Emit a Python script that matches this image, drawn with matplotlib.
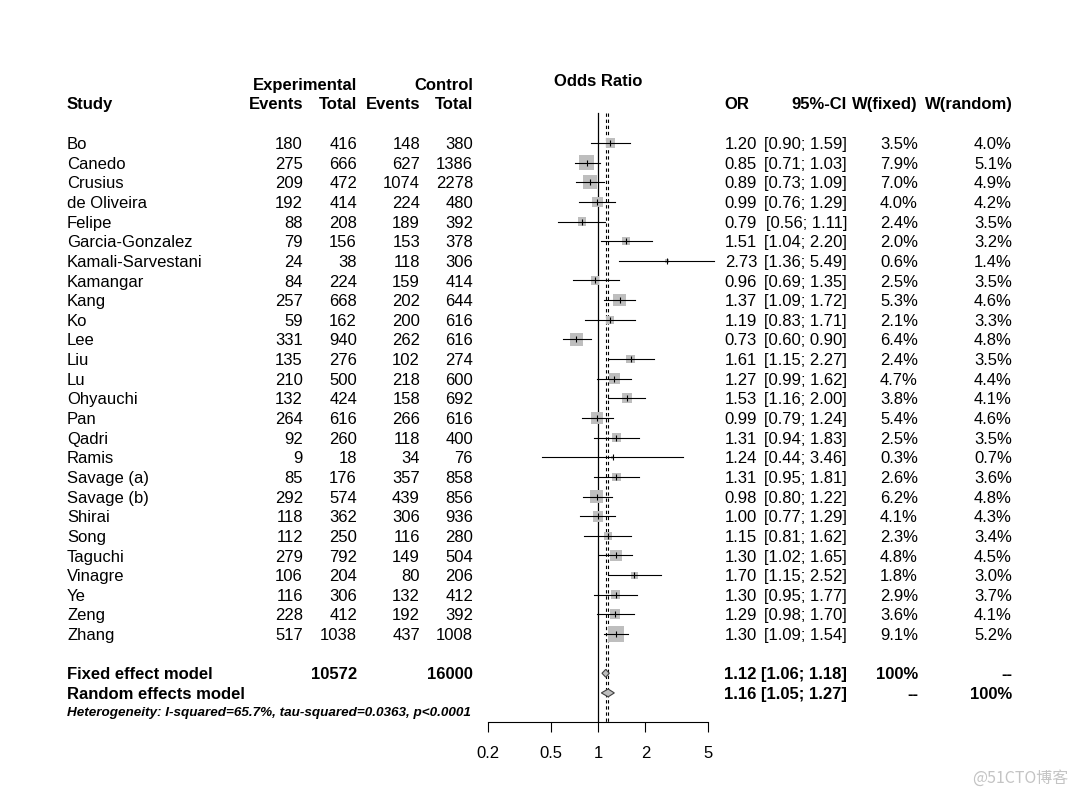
import numpy as np
import matplotlib
matplotlib.use('Agg')
import matplotlib.pyplot as plt
from matplotlib.patches import Polygon
from matplotlib.ticker import NullLocator
from matplotlib.transforms import blended_transform_factory

plt.rcParams['font.family'] = ['Liberation Sans', 'DejaVu Sans']

# data
studies = ['Bo', 'Canedo', 'Crusius', 'de Oliveira', 'Felipe', 'Garcia-Gonzalez',
           'Kamali-Sarvestani', 'Kamangar', 'Kang', 'Ko', 'Lee', 'Liu', 'Lu',
           'Ohyauchi', 'Pan', 'Qadri', 'Ramis', 'Savage (a)', 'Savage (b)',
           'Shirai', 'Song', 'Taguchi', 'Vinagre', 'Ye', 'Zeng', 'Zhang']
ev_exp = [180, 275, 209, 192, 88, 79, 24, 84, 257, 59, 331, 135, 210, 132, 264,
          92, 9, 85, 292, 118, 112, 279, 106, 116, 228, 517]
n_exp = [416, 666, 472, 414, 208, 156, 38, 224, 668, 162, 940, 276, 500, 424, 616,
         260, 18, 176, 574, 362, 250, 792, 204, 306, 412, 1038]
ev_ctrl = [148, 627, 1074, 224, 189, 153, 118, 159, 202, 200, 262, 102, 218, 158,
           266, 118, 34, 357, 439, 306, 116, 149, 80, 132, 192, 437]
n_ctrl = [380, 1386, 2278, 480, 392, 378, 306, 414, 644, 616, 616, 274, 600, 692,
          616, 400, 76, 858, 856, 936, 280, 504, 206, 412, 392, 1008]
odds = [1.20, 0.85, 0.89, 0.99, 0.79, 1.51, 2.73, 0.96, 1.37, 1.19, 0.73, 1.61, 1.27,
        1.53, 0.99, 1.31, 1.24, 1.31, 0.98, 1.00, 1.15, 1.30, 1.70, 1.30, 1.29, 1.30]
ci_lo = [0.90, 0.71, 0.73, 0.76, 0.56, 1.04, 1.36, 0.69, 1.09, 0.83, 0.60, 1.15, 0.99,
         1.16, 0.79, 0.94, 0.44, 0.95, 0.80, 0.77, 0.81, 1.02, 1.15, 0.95, 0.98, 1.09]
ci_hi = [1.59, 1.03, 1.09, 1.29, 1.11, 2.20, 5.49, 1.35, 1.72, 1.71, 0.90, 2.27, 1.62,
         2.00, 1.24, 1.83, 3.46, 1.81, 1.22, 1.29, 1.62, 1.65, 2.52, 1.77, 1.70, 1.54]
w_fixed = [3.5, 7.9, 7.0, 4.0, 2.4, 2.0, 0.6, 2.5, 5.3, 2.1, 6.4, 2.4, 4.7, 3.8, 5.4,
           2.5, 0.3, 2.6, 6.2, 4.1, 2.3, 4.8, 1.8, 2.9, 3.6, 9.1]
w_random = [4.0, 5.1, 4.9, 4.2, 3.5, 3.2, 1.4, 3.5, 4.6, 3.3, 4.8, 3.5, 4.4, 4.1, 4.6,
            3.5, 0.7, 3.6, 4.8, 4.3, 3.4, 4.5, 3.0, 3.7, 4.1, 5.2]

fixed_or, fixed_lo, fixed_hi = 1.12, 1.06, 1.18
random_or, random_lo, random_hi = 1.16, 1.05, 1.27
total_exp, total_ctrl = 10572, 16000
het_text = 'Heterogeneity: I-squared=65.7%, tau-squared=0.0363, p<0.0001'
ticks = [0.2, 0.5, 1, 2, 5]

W, H = 1080, 796
fig = plt.figure(figsize=(W / 100, H / 100), dpi=100)

# full-figure axes in pixel units for the text table
tax = fig.add_axes([0, 0, 1, 1])
tax.set_xlim(0, W)
tax.set_ylim(H, 0)
tax.axis('off')

# forest panel: rows are spaced ~19.6px, first row at y=143
row0, drow = 143, 19.64
xl, xr, yt, yb = 470, 730, 100, 722
ax = fig.add_axes([xl / W, 1 - yb / H, (xr - xl) / W, (yb - yt) / H])
ax.patch.set_visible(False)
ax.set_xscale('log')
dec = 157.4  # px per decade, 1.0 sits at x=598
ax.set_xlim(10 ** ((xl - 598) / dec), 10 ** ((xr - 598) / dec))
ybottom = (yb - row0) / drow
ytop_line = (113 - row0) / drow
ax.set_ylim(ybottom, (yt - row0) / drow)

n = len(studies)
rows = np.arange(n)
r_fix, r_ran = n + 1, n + 2

# reference lines
ax.plot([1, 1], [ytop_line, ybottom], color='black', lw=0.9, zorder=1)
for v in (fixed_or, random_or):
    ax.plot([v, v], [ytop_line, ybottom], color='black', lw=0.8,
            ls=(0, (3, 2.5)), zorder=1)

# squares, CIs, point marks
sizes = 14.5 * np.array(w_fixed)
ax.scatter(odds, rows, s=sizes, marker='s', color='#bebebe', lw=0, zorder=2)
for i in range(n):
    ax.plot([ci_lo[i], ci_hi[i]], [i, i], color='black', lw=0.8, zorder=3)
ax.plot(odds, rows, ls='', marker='|', ms=4, mew=0.8, color='black', zorder=4)

# diamonds
for est, lo, hi, r in [(fixed_or, fixed_lo, fixed_hi, r_fix),
                       (random_or, random_lo, random_hi, r_ran)]:
    dh = 0.2
    ax.add_patch(Polygon([(lo, r), (est, r - dh), (hi, r), (est, r + dh)],
                         closed=True, facecolor='#bebebe', edgecolor='#404040',
                         lw=0.8, zorder=5))

for s in ['top', 'left', 'right']:
    ax.spines[s].set_visible(False)
ax.spines['bottom'].set_bounds(0.2, 5)
ax.spines['bottom'].set_linewidth(0.8)
ax.set_yticks([])
ax.set_xticks(ticks)
ax.set_xticklabels([f'{t:g}' for t in ticks])
ax.xaxis.set_minor_locator(NullLocator())
ax.tick_params(axis='x', direction='out', length=7.5, width=0.8, pad=9.5, labelsize=12)

# text table
tr = blended_transform_factory(tax.transData, ax.transData)
fs = 12
base = 0.31  # baseline offset in rows


def put(x, r, s, ha='right', bold=False):
    tax.text(x, r + base, s, transform=tr, ha=ha, va='baseline', fontsize=fs,
             fontweight='bold' if bold else 'normal')


for i in range(n):
    put(67, i, studies[i], ha='left')
    put(303, i, str(ev_exp[i]))
    put(357, i, str(n_exp[i]))
    put(420, i, str(ev_ctrl[i]))
    put(473, i, str(n_ctrl[i]))
    put(757, i, f'{odds[i]:.2f}')
    put(847, i, f'[{ci_lo[i]:.2f}; {ci_hi[i]:.2f}]')
    put(918, i, f'{w_fixed[i]:.1f}%')
    put(1012, i, f'{w_random[i]:.1f}%')

put(67, r_fix, 'Fixed effect model', ha='left', bold=True)
put(357, r_fix, str(total_exp), bold=True)
put(473, r_fix, str(total_ctrl), bold=True)
put(756, r_fix, f'{fixed_or:.2f}', bold=True)
put(847, r_fix, f'[{fixed_lo:.2f}; {fixed_hi:.2f}]', bold=True)
put(918, r_fix, '100%', bold=True)
put(1012, r_fix, '--', bold=True)

put(67, r_ran, 'Random effects model', ha='left', bold=True)
put(756, r_ran, f'{random_or:.2f}', bold=True)
put(847, r_ran, f'[{random_lo:.2f}; {random_hi:.2f}]', bold=True)
put(918, r_ran, '--', bold=True)
put(1012, r_ran, '100%', bold=True)

tax.text(67, 716, het_text, ha='left', va='baseline', fontsize=9.7,
         fontweight='bold', fontstyle='italic')

# headers
hdr = dict(va='baseline', fontsize=fs, fontweight='bold')
tax.text(598, 86, 'Odds Ratio', ha='center', **hdr)
tax.text(357, 90, 'Experimental', ha='right', **hdr)
tax.text(473, 90, 'Control', ha='right', **hdr)
tax.text(67, 109, 'Study', ha='left', **hdr)
tax.text(303, 109, 'Events', ha='right', **hdr)
tax.text(357, 109, 'Total', ha='right', **hdr)
tax.text(420, 109, 'Events', ha='right', **hdr)
tax.text(473, 109, 'Total', ha='right', **hdr)
tax.text(749, 109, 'OR', ha='right', **hdr)
tax.text(847, 109, '95%-CI', ha='right', **hdr)
tax.text(918, 109, 'W(fixed)', ha='right', **hdr)
tax.text(1013, 109, 'W(random)', ha='right', **hdr)

tax.text(1068, 783, '@51CTO博客', ha='right', va='baseline', fontsize=11.5,
         color='#c4c4c4', family=['Noto Sans CJK SC', 'DejaVu Sans'])

fig.savefig('out.png', dpi=100, facecolor='white')
